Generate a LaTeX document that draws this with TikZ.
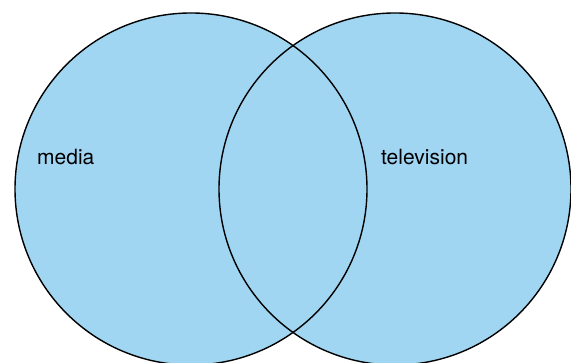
\documentclass[tikz,border=0pt]{standalone}
\usepackage{fontspec}
\setmainfont{TeX Gyre Heros}
\usepackage{tikz}
\usetikzlibrary{positioning}

\definecolor{setblue}{RGB}{161,214,243}

\tikzset{
  setcircle/.style={circle, draw=black, line width=1.4pt, minimum size=352pt, inner sep=0pt},
  setlabel/.style={inner sep=0pt, anchor=base west, font=\fontsize{21}{25}\selectfont}
}

\begin{document}
\begin{tikzpicture}[x=1pt,y=1pt]
      \useasboundingbox (0,0) rectangle (571,363);

      % fills first, so both outlines stay visible
      \fill[setblue] (191,174) circle (176);
      \fill[setblue] (395,174) circle (176);

      % sets
      \node[setcircle] (media) at (191,174) {};
      \node[setcircle] (tv) at (395,174) {};

      % labels
      \node[setlabel] (medialbl) at (37,198) {media};
      \node[setlabel] (tvlbl) at (381,198) {television};
    \end{tikzpicture}
\end{document}
